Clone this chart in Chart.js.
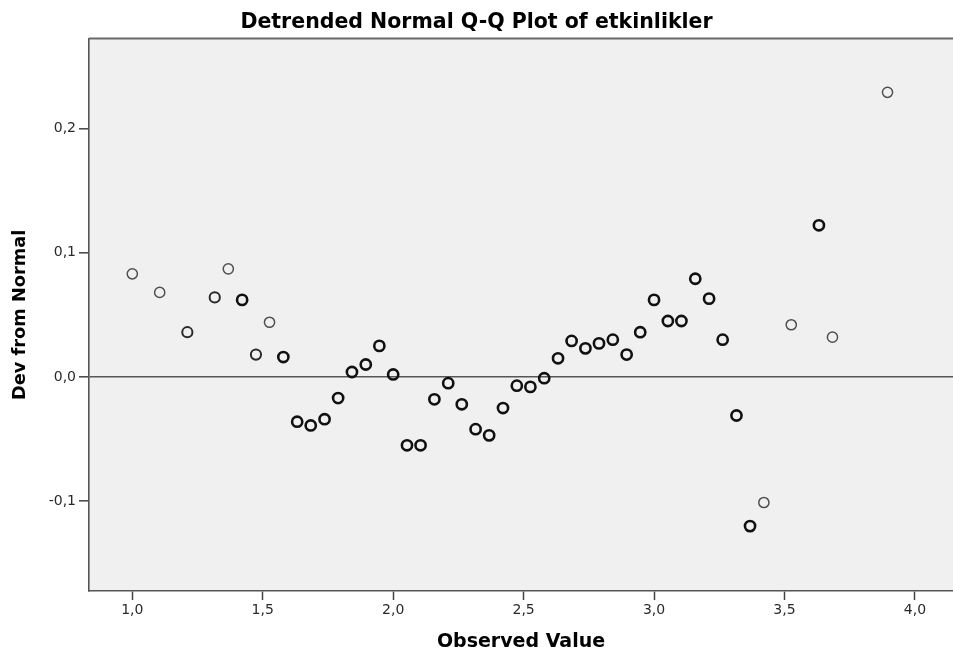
<!DOCTYPE html>
<html>
<head>
<meta charset="utf-8">
<title>Detrended Normal Q-Q Plot of etkinlikler</title>
<script src="https://cdn.jsdelivr.net/npm/chart.js@4/dist/chart.umd.min.js"></script>
<style>
  html, body { margin: 0; padding: 0; background: #fff; }
  #wrap { width: 953px; height: 657px; }
</style>
</head>
<body>
<div id="wrap"><canvas id="chart" width="953" height="657"></canvas></div>
<script>
// observed values / deviation from normal, split by how many cases share the point
const obsSingle = [1.000, 1.105, 1.368, 1.526, 3.421, 3.526, 3.684, 3.895];
const devSingle = [0.083, 0.068, 0.087, 0.044, -0.101, 0.042, 0.032, 0.229];

const obsDouble = [1.211, 1.316, 1.474];
const devDouble = [0.036, 0.064, 0.018];

const obsMulti = [1.421, 1.579, 1.632, 1.684, 1.737, 1.789, 1.842, 1.895, 1.947, 2.000,
                  2.053, 2.105, 2.158, 2.211, 2.263, 2.316, 2.368, 2.421, 2.474, 2.526,
                  2.579, 2.632, 2.684, 2.737, 2.789, 2.842, 2.895, 2.947, 3.000, 3.053,
                  3.105, 3.158, 3.211, 3.263, 3.316, 3.368, 3.632];
const devMulti = [0.062, 0.016, -0.036, -0.039, -0.034, -0.017, 0.004, 0.010, 0.025, 0.002,
                  -0.055, -0.055, -0.018, -0.005, -0.022, -0.042, -0.047, -0.025, -0.007, -0.008,
                  -0.001, 0.015, 0.029, 0.023, 0.027, 0.030, 0.018, 0.036, 0.062, 0.045,
                  0.045, 0.079, 0.063, 0.030, -0.031, -0.120, 0.122];

const xRange = [0.834, 4.146];
const yRange = [-0.1722, 0.2722];

const pts = (xs, ys) => xs.map((x, i) => ({x: x, y: ys[i]}));
const comma = v => (Math.round(v * 10) / 10).toFixed(1).replace('.', ',');

const plotFrame = {
  id: 'plotFrame',
  beforeDraw(chart) {
    const {ctx, chartArea: a} = chart;
    ctx.save();
    ctx.fillStyle = '#f0f0f0';
    ctx.fillRect(a.left, a.top, a.right - a.left, a.bottom - a.top);
    ctx.restore();
  },
  afterDraw(chart) {
    const {ctx, chartArea: a} = chart;
    ctx.save();
    ctx.strokeStyle = '#6a6a6a';
    ctx.lineWidth = 2;
    ctx.beginPath();
    ctx.moveTo(a.left, a.top);
    ctx.lineTo(a.right, a.top);
    ctx.stroke();
    ctx.restore();
  }
};

const sans = 'DejaVu Sans';

new Chart(document.getElementById('chart'), {
  type: 'scatter',
  data: {
    datasets: [
      {label: 'single', data: pts(obsSingle, devSingle), borderColor: '#505050', borderWidth: 1.5},
      {label: 'double', data: pts(obsDouble, devDouble), borderColor: '#2a2a2a', borderWidth: 2},
      {label: 'multi', data: pts(obsMulti, devMulti), borderColor: '#111', borderWidth: 2.6}
    ].map(d => Object.assign(d, {
      backgroundColor: 'rgba(0,0,0,0)', pointRadius: 5.1, pointHoverRadius: 5.1, pointStyle: 'circle'
    }))
  },
  options: {
    responsive: false,
    animation: false,
    devicePixelRatio: 1,
    layout: {padding: 0, autoPadding: false},
    plugins: {
      legend: {display: false},
      tooltip: {enabled: false},
      title: {
        display: true,
        text: 'Detrended Normal Q-Q Plot of etkinlikler',
        color: '#000',
        font: {family: sans, size: 20.5, weight: 'bold'},
        padding: {top: 10, bottom: 4}
      }
    },
    scales: {
      x: {
        type: 'linear',
        min: xRange[0],
        max: xRange[1],
        afterFit(s) { s.height = 66; s.paddingLeft = 0; s.paddingRight = 0; },
        border: {display: true, color: '#555', width: 1.6},
        grid: {drawOnChartArea: false, tickLength: 9, tickColor: '#444', tickWidth: 1.5},
        ticks: {
          stepSize: 0.5, includeBounds: false, padding: 2, color: '#2a2a2a',
          font: {family: sans, size: 14},
          callback: v => comma(v)
        },
        title: {
          display: true, text: 'Observed Value', color: '#000',
          font: {family: sans, size: 19, weight: 'bold'},
          padding: {top: 0, bottom: 3.8}
        }
      },
      y: {
        type: 'linear',
        min: yRange[0],
        max: yRange[1],
        afterFit(s) { s.width = 89; s.paddingTop = 0; s.paddingBottom = 0; },
        border: {display: true, color: '#555', width: 1.6},
        grid: {
          drawOnChartArea: true,
          tickLength: 10,
          tickColor: '#444',
          tickWidth: 1.5,
          color: c => (c.tick && Math.abs(c.tick.value) < 1e-9) ? '#555' : 'rgba(0,0,0,0)',
          lineWidth: 1.6
        },
        ticks: {
          stepSize: 0.1, includeBounds: false, padding: 3, color: '#2a2a2a',
          font: {family: sans, size: 14},
          callback: v => comma(v)
        },
        title: {
          display: true, text: 'Dev from Normal', color: '#000',
          font: {family: sans, size: 17.8, weight: 'bold'},
          padding: {top: 9.3, bottom: 0}
        }
      }
    }
  },
  plugins: [plotFrame]
});
</script>
</body>
</html>
